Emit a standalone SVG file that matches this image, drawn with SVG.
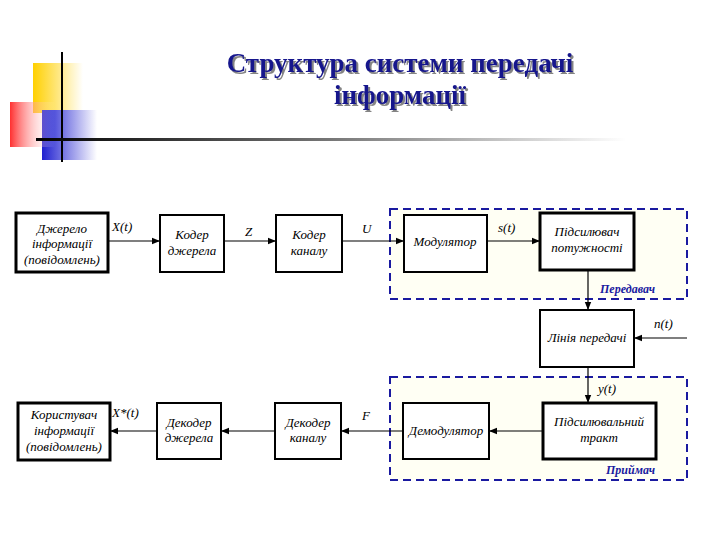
<svg xmlns="http://www.w3.org/2000/svg" width="720" height="540" viewBox="0 0 720 540" font-family="'Liberation Serif', 'DejaVu Serif', 'Times New Roman', serif">
<defs>
<style>
.b{fill:#fff;stroke:#000;stroke-width:2}
.bt{fill:#fff;stroke:#000;stroke-width:3}
.t{font-style:italic;font-size:13px;text-anchor:middle;fill:#000}
.l{font-style:italic;font-size:13px;fill:#000}
.c{stroke:#000;stroke-width:1.2;fill:none;marker-end:url(#a)}
.d{fill:#fffff4;stroke:#1a1aa0;stroke-width:2;stroke-dasharray:8,5}
.bl{font-style:italic;font-weight:bold;font-size:12px;fill:#1a1aa0}
.ti{font-weight:bold;font-size:27px;text-anchor:middle;fill:#14148c}
</style>
<filter id="sh" x="-5%" y="-20%" width="110%" height="150%"><feDropShadow dx="2" dy="2" stdDeviation="0.6" flood-color="#666" flood-opacity="0.8"/></filter>
<marker id="a" viewBox="0 0 10 10" refX="10" refY="5" markerWidth="7" markerHeight="7" orient="auto"><path d="M0,1 L10,5 L0,9 z" fill="#000"/></marker>
<linearGradient id="g" x1="0" x2="1"><stop offset="0" stop-color="#000"/><stop offset="0.5" stop-color="#777"/><stop offset="1" stop-color="#fff"/></linearGradient>
<linearGradient id="ry" x1="0" x2="1"><stop offset="0" stop-color="#ffd000"/><stop offset="1" stop-color="#fff"/></linearGradient>
<linearGradient id="rr" x1="0" x2="1"><stop offset="0" stop-color="#ff3030"/><stop offset="1" stop-color="#ffffff" stop-opacity="0"/></linearGradient>
<linearGradient id="rb" x1="0" x2="1"><stop offset="0" stop-color="#2020d0"/><stop offset="1" stop-color="#fff"/></linearGradient>
</defs>
<g id="decor">
<rect x="33" y="63" width="50" height="50" fill="url(#ry)"/>
<rect x="42" y="110" width="55" height="50" fill="url(#rb)"/>
<rect x="10" y="102" width="45" height="45" fill="url(#rr)"/>
<line x1="62" y1="52" x2="62" y2="162" stroke="#000" stroke-width="2"/>
<rect x="36" y="138" width="590" height="3" fill="url(#g)"/>
</g>
<g id="title" filter="url(#sh)">
<text class="ti" x="400" y="72">Структура системи передачі</text>
<text class="ti" x="400" y="104">інформації</text>
</g>
<g id="transmitter"><rect class="d" x="390" y="209" width="297" height="90"/><text class="bl" x="600" y="293">Передавач</text></g>
<g id="receiver"><rect class="d" x="390" y="377" width="297" height="103"/><text class="bl" x="606" y="474">Приймач</text></g>
<g id="connectors">
<path class="c" d="M108,241 H160"/>
<path class="c" d="M224,241 H276"/>
<path class="c" d="M342,241 H404"/>
<path class="c" d="M487,241 H540"/>
<path class="c" d="M588,270 V310"/>
<path class="c" d="M687,338 H634"/>
<path class="c" d="M588,367 V403"/>
<path class="c" d="M543,431 H489"/>
<path class="c" d="M403,431 H341"/>
<path class="c" d="M275,431 H221"/>
<path class="c" d="M157,431 H110"/>
<text class="l" x="112" y="231" font-size="14">X(t)</text>
<text class="l" x="245" y="236">Z</text>
<text class="l" x="362" y="233">U</text>
<text class="l" x="498" y="232">s(t)</text>
<text class="l" x="654" y="328">n(t)</text>
<text class="l" x="598" y="393">y(t)</text>
<text class="l" x="362" y="420">F</text>
<text class="l" x="112" y="417" font-size="14">X*(t)</text>
</g>
<g id="n1"><rect class="bt" x="16" y="213" width="92" height="59"/><text class="t" x="62" y="233">Джерело</text><text class="t" x="62" y="248">інформації</text><text class="t" x="62" y="264">(повідомлень)</text></g>
<g id="n2"><rect class="b" x="160" y="215" width="64" height="57"/><text class="t" x="192" y="239">Кодер</text><text class="t" x="192" y="255">джерела</text></g>
<g id="n3"><rect class="b" x="276" y="215" width="66" height="57"/><text class="t" x="309" y="239">Кодер</text><text class="t" x="309" y="255">каналу</text></g>
<g id="n4"><rect class="b" x="404" y="215" width="83" height="57"/><text class="t" x="445" y="246">Модулятор</text></g>
<g id="n5"><rect class="bt" x="540" y="213" width="94" height="57"/><text class="t" x="587" y="236">Підсилювач</text><text class="t" x="587" y="252">потужності</text></g>
<g id="n6"><rect class="b" x="540" y="310" width="94" height="57"/><text class="t" x="587" y="342">Лінія передачі</text></g>
<g id="n7"><rect class="bt" x="543" y="403" width="113" height="56"/><text class="t" x="599" y="426">Підсилювальний</text><text class="t" x="599" y="442">тракт</text></g>
<g id="n8"><rect class="b" x="403" y="403" width="86" height="56"/><text class="t" x="446" y="435">Демодулятор</text></g>
<g id="n9"><rect class="b" x="275" y="403" width="66" height="56"/><text class="t" x="308" y="427">Декодер</text><text class="t" x="308" y="442">каналу</text></g>
<g id="n10"><rect class="b" x="157" y="403" width="64" height="56"/><text class="t" x="189" y="427">Декодер</text><text class="t" x="189" y="442">джерела</text></g>
<g id="n11"><rect class="bt" x="18" y="403" width="92" height="57"/><text class="t" x="64" y="419">Користувач</text><text class="t" x="64" y="435">інформації</text><text class="t" x="64" y="451">(повідомлень)</text></g>
</svg>
